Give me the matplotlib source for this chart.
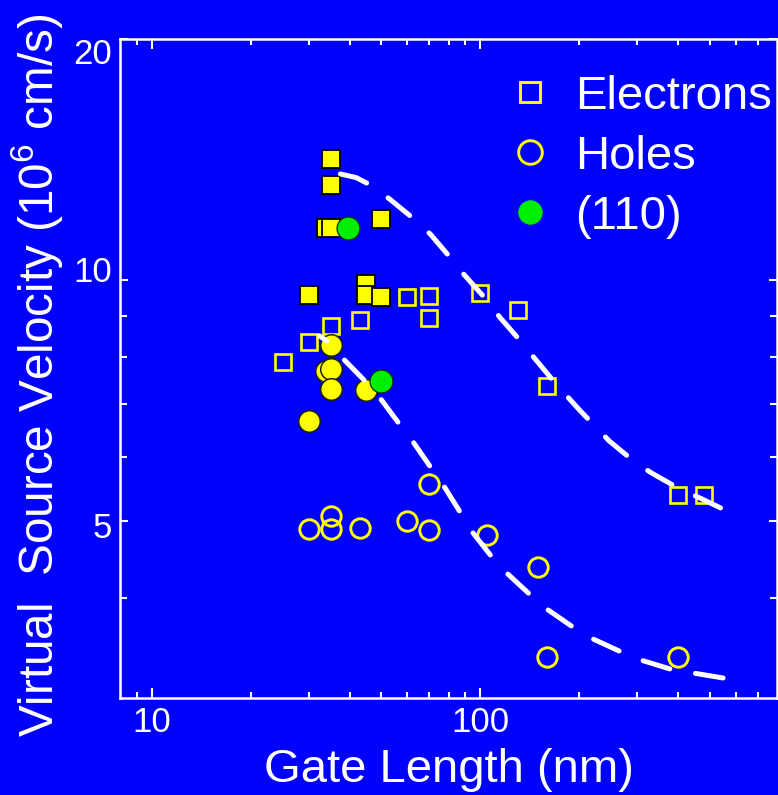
import matplotlib
matplotlib.use("Agg")
import matplotlib.pyplot as plt
from matplotlib.lines import Line2D
from matplotlib.ticker import NullFormatter, FixedLocator
from matplotlib.transforms import ScaledTranslation

plt.rcParams['font.family'] = ['Liberation Sans', 'DejaVu Sans']
plt.rcParams['mathtext.fontset'] = 'custom'
plt.rcParams['mathtext.rm'] = 'Liberation Sans'

BLUE = '#0000ff'
YELLOW = '#ffff00'
GREEN = '#00ee00'

# electrons (open squares)
elec_L = [25, 30, 35, 43, 60, 70, 70, 100, 130, 160, 400, 480]
elec_v = [7.9, 8.37, 8.76, 8.9, 9.53, 9.55, 8.96, 9.64, 9.17, 7.37, 5.38, 5.38]
# electrons (filled squares)
elec_f_L = [35, 35, 34, 35, 50, 30, 45, 45, 50]
elec_f_v = [14.15, 13.14, 11.6, 11.6, 11.9, 9.58, 9.88, 9.57, 9.53]
# holes (open circles)
hole_L = [70, 30, 35, 35, 43, 60, 70, 105, 150, 160, 400]
hole_v = [5.56, 4.88, 5.07, 4.88, 4.9, 5.0, 4.87, 4.8, 4.38, 3.38, 3.38]
# holes (filled circles)
hole_f_L = [35, 34, 35, 35, 45, 30]
hole_f_v = [8.3, 7.68, 7.73, 7.3, 7.28, 6.65]
# (110) devices
s110_L = [39.5, 50]
s110_v = [11.6, 7.48]

# trend lines
elec_fit_L = [37.5, 41.9, 46.9, 52.9, 63.0, 70.5, 81.5, 89.4, 105.2, 114.8, 133,
              146.9, 169.8, 200, 246.6, 290.4, 330.5, 400, 459.8, 568.5]
elec_fit_v = [13.56, 13.42, 13.1, 12.62, 11.9, 11.4, 10.63, 10.14, 9.41, 8.97, 8.37,
              7.96, 7.41, 6.88, 6.29, 5.95, 5.74, 5.49, 5.35, 5.13]
hole_fit_L = [32.4, 34.6, 38.1, 45.0, 49.7, 56.7, 62.6, 70.8, 77.7, 87.4, 94.8,
              109, 121, 142.6, 160.2, 193.1, 222.1, 270.7, 312.9, 388.8, 452.5, 568.5]
hole_fit_v = [8.51, 8.35, 7.98, 7.44, 7.10, 6.60, 6.26, 5.82, 5.51, 5.10, 4.83,
              4.49, 4.29, 4.03, 3.87, 3.67, 3.55, 3.42, 3.34, 3.25, 3.22, 3.17]

fig = plt.figure(figsize=(7.78, 7.95), dpi=100, facecolor=BLUE)
ax = fig.add_axes([120 / 778, 97 / 795, 657 / 778, 659 / 795], facecolor=BLUE)
ax.set_xscale('log')
ax.set_yscale('log')
ax.set_xlim(8, 800)
ax.set_ylim(3, 20)

# dashed trend lines
dash = dict(color='white', lw=3.6, dash_capstyle='round', zorder=4)
ax.plot(elec_fit_L, elec_fit_v, linestyle=(0, (5.6, 5.2)), **dash)
ax.plot(hole_fit_L, hole_fit_v, linestyle=(3.8, (5.6, 5.2)), **dash)

ax.plot(elec_L, elec_v, ls='none', marker='s', ms=12, mfc='none', mec=YELLOW, mew=1.9, zorder=3)
ax.plot(elec_f_L, elec_f_v, ls='none', marker='s', ms=12.3, mfc=YELLOW, mec='black', mew=1.3, zorder=3)
ax.plot(hole_L, hole_v, ls='none', marker='o', ms=14, mfc='none', mec=YELLOW, mew=2.1, zorder=3)
ax.plot(hole_f_L, hole_f_v, ls='none', marker='o', ms=15.5, mfc=YELLOW, mec='#222200', mew=1.1, zorder=3)
ax.plot(s110_L, s110_v, ls='none', marker='o', ms=16.5, mfc=GREEN, mec='#003300', mew=0.9, zorder=5)

for side in ['left', 'right', 'top', 'bottom']:
    ax.spines[side].set_color('white')
    ax.spines[side].set_linewidth(1.8)

ax.xaxis.set_minor_formatter(NullFormatter())
ax.yaxis.set_minor_formatter(NullFormatter())
ax.set_xticks([10, 100], labels=['10', '100'])
ax.xaxis.set_minor_locator(FixedLocator([9, 20, 30, 40, 50, 60, 70, 80, 90,
                                         200, 300, 400, 500, 600, 700]))
ax.set_yticks([5, 10, 20], labels=['5', '10', '20'])
ax.yaxis.set_minor_locator(FixedLocator([4, 6, 7, 8, 9]))

ax.tick_params(which='both', direction='in', color='white', width=1.5,
               top=True, right=True, labelcolor='white', labelsize=25)
ax.tick_params(axis='x', which='major', length=7.5, pad=6)
ax.tick_params(axis='x', which='minor', length=4)
ax.tick_params(axis='y', which='major', length=6, pad=6)
ax.tick_params(axis='y', which='minor', length=5)

# nudge the y tick labels
shifts = {'20': -12, '10': 11, '5': -4}
for lab in ax.get_yticklabels():
    dy = shifts.get(lab.get_text(), 0)
    lab.set_transform(lab.get_transform() + ScaledTranslation(0, dy / fig.dpi, fig.dpi_scale_trans))

ax.set_xlabel('Gate Length (nm)', color='white', fontsize=34, labelpad=6)
ax.set_ylabel('Virtual  Source Velocity (10$^{\\mathregular{6}}$ cm/s)',
              color='white', fontsize=34.3, labelpad=5)
ax.yaxis.set_label_coords(-0.083, 0.49)

handles = [
    Line2D([], [], ls='none', marker='s', ms=14.4, mfc='none', mec=YELLOW, mew=2.1),
    Line2D([], [], ls='none', marker='o', ms=17, mfc='none', mec=YELLOW, mew=2.1),
    Line2D([], [], ls='none', marker='o', ms=17, mfc=GREEN, mec=GREEN, mew=0.5),
]
leg = ax.legend(handles, ['Electrons', 'Holes', '(110)'], loc='upper left',
                bbox_to_anchor=(0.588, 0.946), frameon=False, fontsize=34,
                handlelength=1.0, handletextpad=0.46, labelspacing=0.34,
                borderpad=0, borderaxespad=0, labelcolor='white')

fig.savefig('out.png', dpi=100, facecolor=BLUE)
